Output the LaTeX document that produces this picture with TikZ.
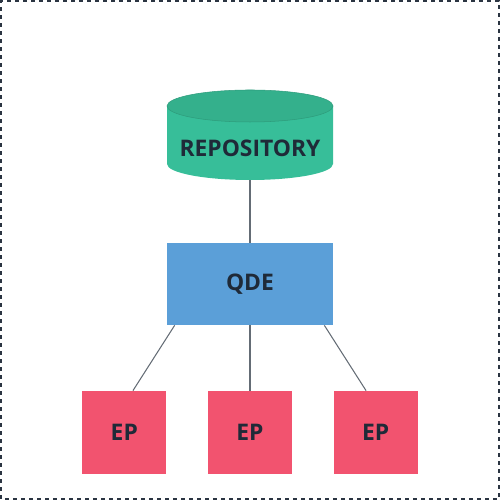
\documentclass[tikz,border=0pt]{standalone}
\usepackage{fontspec}
\setmainfont{Open Sans}
\usetikzlibrary{positioning,calc}

\definecolor{repogreen}{HTML}{37BE99}
\definecolor{repotop}{HTML}{34B08C}
\definecolor{repoedge}{HTML}{2E9C7C}
\definecolor{qdeblue}{HTML}{5B9FD8}
\definecolor{eppink}{HTML}{F2536F}
\definecolor{labelink}{HTML}{1F2A38}
\definecolor{wire}{HTML}{646C75}
\definecolor{frame}{HTML}{2B3542}

\begin{document}
\begin{tikzpicture}[
  lbl/.style={font=\fontsize{13}{15}\selectfont\bfseries, text=labelink},
  box/.style={lbl, fill=#1, inner sep=0pt},
  link/.style={draw=wire, line width=0.6pt}
]

\useasboundingbox (0,0) rectangle (10,10);

% The dashed frame round the whole picture
\draw[frame, line width=0.03cm, dash pattern=on 0.08cm off 0.08cm]
  (0.02,0.02) rectangle (9.98,9.98);

% The repository, a cylinder
\coordinate (T) at (5,7.88);
\coordinate (B) at (5,6.72);
\fill[repogreen] (3.34,7.88) -- (3.34,6.72) arc(180:360:1.66cm and 0.32cm)
  -- (6.66,7.88) -- cycle;
\filldraw[fill=repotop, draw=repoedge, line width=0.3pt] (T) ellipse (1.66cm and 0.32cm);
\node[lbl, minimum width=3.32cm, minimum height=1.28cm, inner sep=0pt]
  (repo) at (5,7.04) {REPOSITORY};

% The QDE in the middle
\node[box=qdeblue, minimum width=3.32cm, minimum height=1.64cm]
  (qde) at (5,4.32) {QDE};

% Three EPs in a row
\node[box=eppink, minimum width=1.68cm, minimum height=1.66cm]
  (ep2) at (5,1.35) {EP};
\node[box=eppink, minimum width=1.68cm, minimum height=1.66cm, left=0.82cm of ep2]
  (ep1) {EP};
\node[box=eppink, minimum width=1.68cm, minimum height=1.66cm, right=0.82cm of ep2]
  (ep3) {EP};

% Lines between them
\draw[link] (repo.south) -- (qde.north);
\draw[link] ([xshift=0.16cm]qde.south west) -- ([xshift=1.02cm]ep1.north west);
\draw[link] (qde.south) -- (ep2.north);
\draw[link] ([xshift=-0.18cm]qde.south east) -- ([xshift=-1.04cm]ep3.north east);

\end{tikzpicture}
\end{document}
